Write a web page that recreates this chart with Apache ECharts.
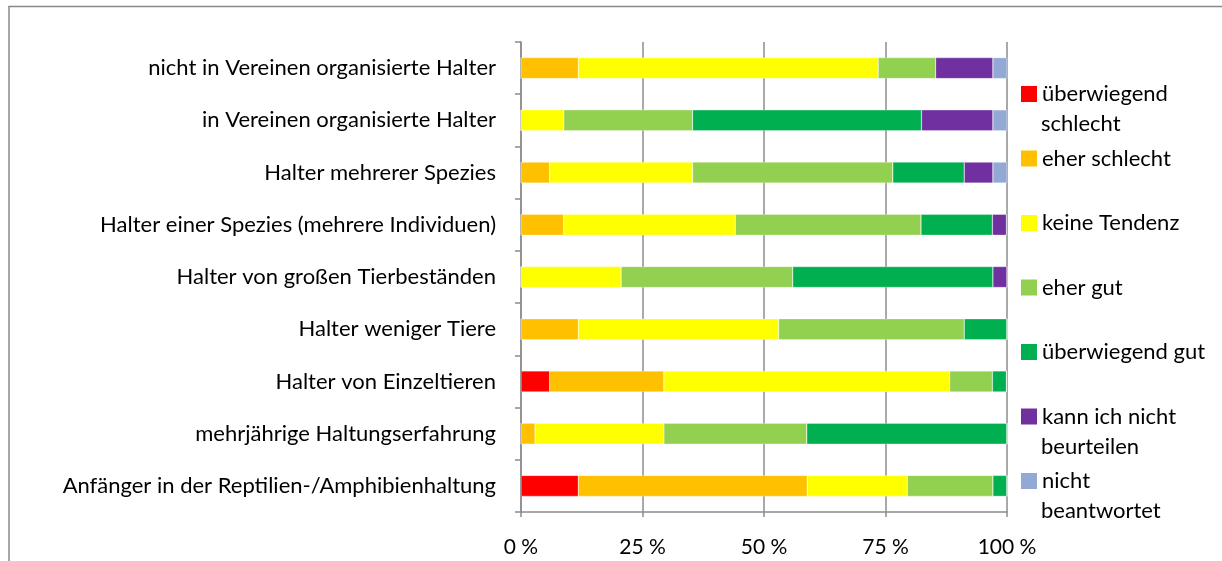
<!DOCTYPE html>
<html>
<head>
<meta charset="utf-8">
<script src="https://cdn.jsdelivr.net/npm/echarts@6/dist/echarts.min.js"></script>
<style>
    html, body { margin: 0; padding: 0; background: #fff; }
    #main__bars { width: 1222px; height: 561px; }
</style>
</head>
<body>
<div id="main__bars"></div>
<script>
// categories, top to bottom as in the picture
const CATEGORIES = [
    'nicht in Vereinen organisierte Halter',
    'in Vereinen organisierte Halter',
    'Halter mehrerer Spezies',
    'Halter einer Spezies (mehrere Individuen)',
    'Halter von großen Tierbeständen',
    'Halter weniger Tiere',
    'Halter von Einzeltieren',
    'mehrjährige Haltungserfahrung',
    'Anfänger in der Reptilien-/Amphibienhaltung',
];

// shares in %, same order as CATEGORIES
const UEBERWIEGEND_SCHLECHT = [0, 0, 0, 0, 0, 0, 5.9, 0, 11.8];
const EHER_SCHLECHT = [11.8, 0, 5.9, 8.8, 0, 11.8, 23.5, 2.9, 47.1];
const KEINE_TENDENZ = [61.7, 8.8, 29.4, 35.3, 20.6, 41.2, 58.8, 26.5, 20.6];
const EHER_GUT = [11.8, 26.5, 41.2, 38.2, 35.3, 38.2, 8.8, 29.4, 17.6];
const UEBERWIEGEND_GUT = [0, 47.1, 14.7, 14.7, 41.2, 8.8, 2.9, 41.2, 2.9];
const KANN_NICHT = [11.8, 14.7, 5.9, 2.9, 2.9, 0, 0, 0, 0];
const NICHT_BEANTWORTET = [2.9, 2.9, 2.9, 0, 0, 0, 0, 0, 0];

const X_TICKS = [0, 25, 50, 75, 100];

const FONT = 'Lato';
const TEXT_COLOR = '#000';

initBars();

function initBars() {
    let chartDom = document.getElementById('main__bars');
    let myChart = echarts.init(chartDom);

    // legend names, first line shown by the legend, second line drawn below
    const series = [
        {name: 'überwiegend schlecht', label: ['überwiegend', 'schlecht'], data: UEBERWIEGEND_SCHLECHT, color: '#ff0000'},
        {name: 'eher schlecht', label: ['eher schlecht'], data: EHER_SCHLECHT, color: '#ffc000'},
        {name: 'keine Tendenz', label: ['keine Tendenz'], data: KEINE_TENDENZ, color: '#ffff00'},
        {name: 'eher gut', label: ['eher gut'], data: EHER_GUT, color: '#92d050'},
        {name: 'überwiegend gut', label: ['überwiegend gut'], data: UEBERWIEGEND_GUT, color: '#00b050'},
        {name: 'kann ich nicht beurteilen', label: ['kann ich nicht', 'beurteilen'], data: KANN_NICHT, color: '#7030a0'},
        {name: 'nicht beantwortet', label: ['nicht', 'beantwortet'], data: NICHT_BEANTWORTET, color: '#92a9d6'},
    ];

    const legendTop = 81;
    const legendLine = 26;
    const legendPitch = 64.5;
    let secondLines = [];
    series.forEach((s, i) => {
        if (s.label.length < 2) return;
        secondLines.push({
            type: 'text',
            x: 1041,
            y: legendTop + legendLine / 2 + i * legendPitch + 30,
            style: {
                text: s.label[1],
                font: '22px ' + FONT,
                fill: TEXT_COLOR,
                verticalAlign: 'middle',
            },
        });
    });

    let option = {
        animation: false,
        grid: {
            left: 521,
            right: 215,
            top: 42,
            bottom: 49,
        },
        xAxis: {
            type: 'value',
            min: 0,
            max: 100,
            interval: 25,
            axisLine: {show: true, lineStyle: {color: '#8c8c8c', width: 1.5}},
            axisTick: {show: true, length: 5, lineStyle: {color: '#8c8c8c', width: 1.5}},
            splitLine: {show: true, lineStyle: {color: '#8c8c8c', width: 1.5}},
            axisLabel: {
                margin: 25,
                color: TEXT_COLOR,
                fontFamily: FONT,
                fontSize: 21,
                formatter: (v) => X_TICKS.includes(v) ? v + ' %' : '',
            },
        },
        yAxis: {
            type: 'category',
            inverse: true,
            data: CATEGORIES,
            axisLine: {show: true, lineStyle: {color: '#8c8c8c', width: 1.5}},
            axisTick: {show: true, length: 6, lineStyle: {color: '#8c8c8c', width: 1.5}},
            axisLabel: {
                margin: 25,
                color: TEXT_COLOR,
                fontFamily: FONT,
                fontSize: 22,
            },
        },
        legend: {
            orient: 'vertical',
            left: 1021,
            top: legendTop,
            padding: 0,
            itemWidth: 16,
            itemHeight: 16,
            itemGap: legendPitch - legendLine,
            icon: 'rect',
            selectedMode: false,
            data: series.map(s => s.name),
            formatter: (name) => series.find(s => s.name === name).label[0],
            itemStyle: {borderWidth: 0},
            textStyle: {
                color: TEXT_COLOR,
                fontFamily: FONT,
                fontSize: 22,
                lineHeight: legendLine,
            },
        },
        graphic: [
            // outer chart frame, only top and left edges are inside the picture
            {
                type: 'rect',
                shape: {x: 9, y: 6.5, width: 1400, height: 800},
                style: {fill: 'none', stroke: '#888', lineWidth: 1.5},
                silent: true,
            },
        ].concat(secondLines),
        series: series.map(s => ({
            name: s.name,
            type: 'bar',
            stack: 'total',
            barWidth: 21,
            data: s.data,
            itemStyle: {color: s.color, borderColor: 'rgba(255,255,255,0.6)', borderWidth: 0.5},
            emphasis: {disabled: true},
        })),
    };

    option && myChart.setOption(option);
}
</script>
</body>
</html>
